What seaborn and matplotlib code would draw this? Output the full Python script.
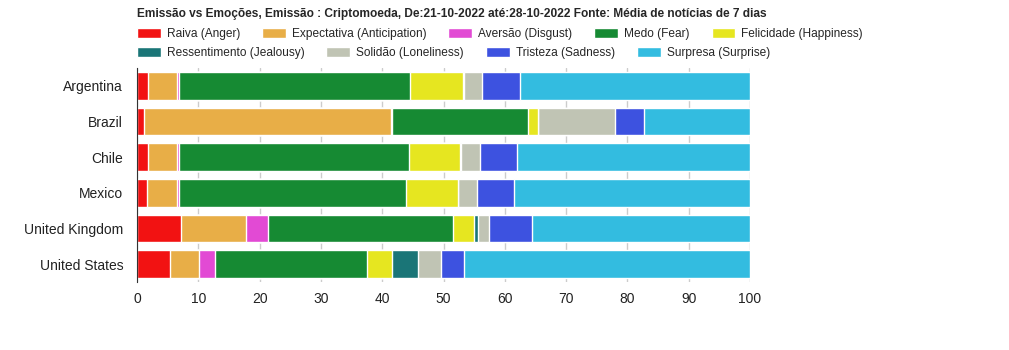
import numpy as np
import pandas as pd
import seaborn as sns
import matplotlib.pyplot as plt

countries = ["Argentina", "Brazil", "Chile", "Mexico", "United Kingdom", "United States"]
emotions = ["Raiva (Anger)", "Expectativa (Anticipation)", "Aversão (Disgust)", "Medo (Fear)",
            "Felicidade (Happiness)", "Ressentimento (Jealousy)", "Solidão (Loneliness)",
            "Tristeza (Sadness)", "Surpresa (Surprise)"]
colors = ["#f21212", "#e8ae47", "#e24ad4", "#168a33", "#e6e620",
          "#1a7577", "#c0c4b4", "#3d52e0", "#33bce0"]

anger = [1.8, 1.1, 1.8, 1.6, 7.2, 5.4]
anticipation = [4.7, 40.4, 4.7, 4.9, 10.6, 4.7]
disgust = [0.4, 0.2, 0.3, 0.3, 3.6, 2.6]
fear = [37.7, 22.1, 37.6, 37.1, 30.2, 24.8]
happiness = [8.5, 1.6, 8.3, 8.4, 3.4, 4.1]
jealousy = [0.2, 0.1, 0.2, 0.1, 0.7, 4.3]
loneliness = [2.9, 12.6, 3.1, 3.1, 1.7, 3.7]
sadness = [6.2, 4.7, 6.0, 6.0, 7.1, 3.8]
surprise = [37.6, 17.3, 38.0, 38.5, 35.5, 46.6]

series = [anger, anticipation, disgust, fear, happiness, jealousy, loneliness, sadness, surprise]
df = pd.DataFrame(dict(zip(emotions, series)), index=countries)
# normalise each row to 100
df = df.div(df.sum(axis=1), axis=0) * 100
cum = df.cumsum(axis=1)

sns.set_style("white")
plt.rcParams["font.family"] = ["Liberation Sans", "DejaVu Sans"]

fig = plt.figure(figsize=(10.09, 3.5), dpi=100)
ax = fig.add_axes([0.1358, 0.194, 0.6075, 0.612])

# draw from the rightmost cumulative layer back to the left so earlier ones sit on top
for emo, col in reversed(list(zip(emotions, colors))):
    sns.barplot(x=cum[emo].values, y=countries, orient="h", color=col, label=emo,
                width=0.78, edgecolor="white", linewidth=1, saturation=1, ax=ax, zorder=3)

ax.set_xlim(0, 100)
ax.set_xticks(range(0, 101, 10))
ax.grid(axis="x", color="#cccccc", linewidth=1, zorder=0)
ax.set_axisbelow(True)
for s in ["top", "right", "bottom"]:
    ax.spines[s].set_visible(False)
ax.spines["left"].set_color("#333333")
ax.spines["left"].set_zorder(5)
ax.tick_params(axis="x", length=0, labelsize=10, colors="#222222", pad=7)
ax.tick_params(axis="y", length=0, labelsize=10, colors="#222222", pad=10)
ax.set_xlabel("")
ax.set_ylabel("")

handles, labels = ax.get_legend_handles_labels()
ax.get_legend().remove()
order = {l: h for h, l in zip(handles, labels)}
hs = [order[e] for e in emotions]
kw = dict(frameon=False, fontsize=8.6, handlelength=2.0, handleheight=0.95,
          handletextpad=0.5, columnspacing=1.83, borderpad=0, borderaxespad=0)
fig.legend(hs[:5], emotions[:5], ncol=5, loc="center left",
           bbox_to_anchor=(0.1358, 0.903), **kw)
fig.legend(hs[5:], emotions[5:], ncol=4, loc="center left",
           bbox_to_anchor=(0.1358, 0.849), **kw)

fig.text(0.1358, 0.96, "Emissão vs Emoções, Emissão : Criptomoeda, De:21-10-2022 até:28-10-2022 Fonte: Média de notícias de 7 dias",
         fontsize=8.6, fontweight="bold", va="center", ha="left")

fig.savefig("out.png", dpi=100)
